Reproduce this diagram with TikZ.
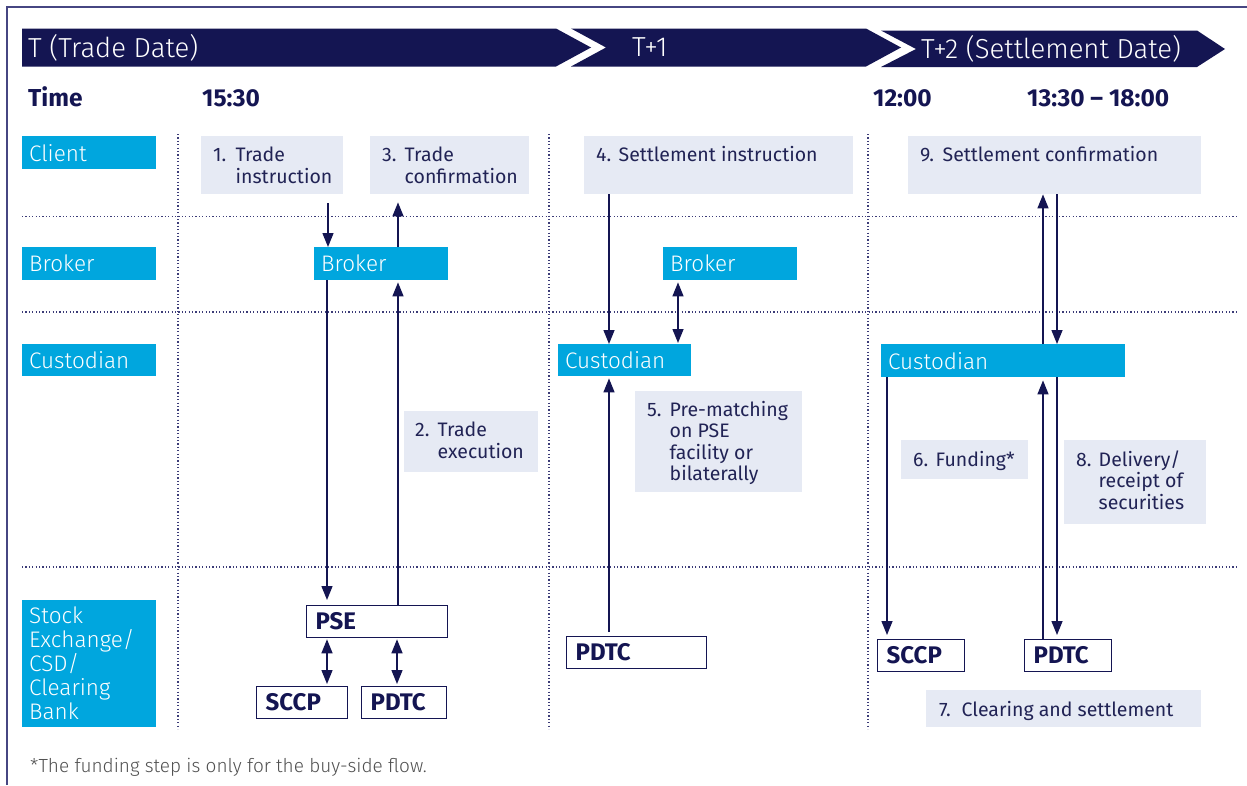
\documentclass[tikz,border=0pt]{standalone}
\usepackage{fontspec}
\setmainfont{Fira Sans}
\IfFontExistsTF{Fira Sans Light}{\newfontfamily\mlightfam{Fira Sans Light}}{\newfontfamily\mlightfam{Fira Sans}}
\usetikzlibrary{arrows.meta,calc}
\definecolor{navy}{RGB}{20,21,82}
\definecolor{cyanbox}{RGB}{0,166,222}
\definecolor{graybox}{RGB}{230,234,244}
\definecolor{navytext}{RGB}{33,35,85}
\definecolor{dotc}{RGB}{60,60,120}
\definecolor{footc}{RGB}{80,80,80}
\definecolor{framec}{RGB}{70,70,130}
\newcommand{\mhd}{\mlightfam\fontsize{27.5}{30}\selectfont}
\newcommand{\mcy}{\mlightfam\fontsize{22.5}{24}\selectfont}
\newcommand{\mgy}{\fontsize{19.5}{21}\selectfont}
\newcommand{\mbd}{\fontsize{24}{26}\selectfont\bfseries}
\newcommand{\mtm}{\fontsize{24.5}{26}\selectfont\bfseries}
\newcommand{\mft}{\mlightfam\fontsize{19}{21}\selectfont}
\newcommand{\numtxt}[2]{\makebox[22.5pt][l]{#1}\begin{tabular}[t]{@{}l@{}}#2\end{tabular}}
\begin{document}
\begin{tikzpicture}[x=1pt,y=-1pt,
  cbox/.style={fill=cyanbox,text=white,font=\mcy,anchor=north west,inner xsep=7pt,inner ysep=0pt,align=left},
  gbox/.style={fill=graybox,anchor=north west,inner sep=0pt},
  gtext/.style={anchor=base west,text=navytext,font=\mgy,inner sep=0pt},
  wbox/.style={draw=navy,line width=1.3pt,fill=white,anchor=north west,inner xsep=9pt,inner ysep=0pt,minimum height=32pt,text=navy,font=\mbd,align=left},
  band/.style={fill=navy},
  htext/.style={anchor=base west,text=white,font=\mhd,inner sep=0pt},
  ttext/.style={anchor=base west,text=navy,font=\mtm,inner sep=0pt},
  dotline/.style={draw=dotc,line width=1.1pt,dash pattern=on 1.1pt off 2.3pt},
  arr/.style={draw=navy,line width=1.4pt,-{Triangle[length=14pt,width=11pt]}},
  darr/.style={draw=navy,line width=1.4pt,{Triangle[length=14pt,width=11pt]}-{Triangle[length=14pt,width=11pt]}}
]
\useasboundingbox (0,0) rectangle (1247,785);
\fill[white] (0,0) rectangle (1247,785);
% frame
\draw[framec,line width=1.3pt] (7,785) -- (7,7) -- (1247,7);
% header bands
\fill[band] (22,28.5) -- (556,28.5) -- (591,47.5) -- (556,66.5) -- (22,66.5) -- cycle;
\fill[band] (571,28.5) -- (866,28.5) -- (901,47.5) -- (866,66.5) -- (571,66.5) -- (606,47.5) -- cycle;
\fill[band] (881,30.5) -- (1197,30.5) -- (1225,49) -- (1197,67) -- (881,67) -- (916,49) -- cycle;
\node[htext] (hT) at (28,57) {T (Trade Date)};
\node[htext] (hT1) at (632,56) {T+1};
\node[htext] (hT2) at (921,58) {T+2 (Settlement Date)};
% time row
\node[ttext] (tTime) at (28,106) {Time};
\node[ttext] (t1530) at (202,106) {15:30};
\node[ttext] (t1200) at (873,106) {12:00};
\node[ttext] (t1330) at (1027,106) {13:30 -- 18:00};
% grid
\foreach \yy in {216.5,312,567} \draw[dotline] (22,\yy) -- (1238,\yy);
\foreach \xx in {178,549,868} \draw[dotline] (\xx,134) -- (\xx,729);
% row labels
\node[cbox,text width=120pt,minimum height=33pt] (lclient) at (22,136) {Client};
\node[cbox,text width=120pt,minimum height=33pt] (lbroker) at (22,247) {Broker};
\node[cbox,text width=120pt,minimum height=32pt] (lcust) at (22,344) {Custodian};
\node[cbox,text width=120pt,minimum height=127pt] (lstock) at (22,600) {Stock\\Exchange/\\CSD/\\Clearing\\Bank};
% cyan nodes
\node[cbox,text width=120pt,minimum height=33pt] (br1) at (314,247) {Broker};
\node[cbox,text width=120pt,minimum height=33pt] (br2) at (663,247) {Broker};
\node[cbox,text width=119pt,minimum height=32pt] (cu1) at (558,344) {Custodian};
\node[cbox,text width=230pt,minimum height=33pt] (cu2) at (881,344) {Custodian};
% gray step boxes
\node[gbox,minimum width=142pt,minimum height=58pt] (b1) at (201,136) {};
\node[gtext] (b1t) at ($(b1.north west)+(12,25.5)$) {\numtxt{1.}{Trade\\instruction}};
\node[gbox,minimum width=159pt,minimum height=58pt] (b3) at (370,136) {};
\node[gtext] (b3t) at ($(b3.north west)+(12,25.5)$) {\numtxt{3.}{Trade\\confirmation}};
\node[gbox,minimum width=269pt,minimum height=58pt] (b4) at (584,136) {};
\node[gtext] (b4t) at ($(b4.north west)+(12,25.5)$) {\numtxt{4.}{Settlement instruction}};
\node[gbox,minimum width=293pt,minimum height=58pt] (b9) at (908,136) {};
\node[gtext] (b9t) at ($(b9.north west)+(12,25.5)$) {\numtxt{9.}{Settlement confirmation}};
\node[gbox,minimum width=134pt,minimum height=61pt] (b2) at (404,411) {};
\node[gtext] (b2t) at ($(b2.north west)+(11,25.5)$) {\numtxt{2.}{Trade\\execution}};
\node[gbox,minimum width=167pt,minimum height=101pt] (b5) at (635,391) {};
\node[gtext] (b5t) at ($(b5.north west)+(12,25.5)$) {\numtxt{5.}{Pre-matching\\on PSE\\facility or\\bilaterally}};
\node[gbox,minimum width=127pt,minimum height=39pt] (b6) at (901,440) {};
\node[gtext] (b6t) at ($(b6.north west)+(12,26)$) {\numtxt{6.}{Funding*}};
\node[gbox,minimum width=142pt,minimum height=84pt] (b8) at (1064,440) {};
\node[gtext] (b8t) at ($(b8.north west)+(12,26)$) {\numtxt{8.}{Delivery/\\receipt of\\securities}};
\node[gbox,minimum width=275pt,minimum height=37pt] (b7) at (926,690) {};
\node[gtext] (b7t) at ($(b7.north west)+(13,26)$) {\numtxt{7.}{Clearing and settlement}};
% white boxes
\node[wbox,text width=123pt] (pse) at (306,605) {PSE};
\node[wbox,text width=73pt] (sccp1) at (256,686) {SCCP};
\node[wbox,text width=67pt] (pdtc1) at (361,686) {PDTC};
\node[wbox,text width=122pt] (pdtc2) at (566,636) {PDTC};
\node[wbox,text width=69pt] (sccp2) at (877,639) {SCCP};
\node[wbox,text width=69pt] (pdtc3) at (1024,639) {PDTC};
% connectors
\draw[arr,shorten <=9pt] (b1.south -| 328,0) -- (br1.north -| 328,0);
\draw[arr,shorten >=8pt] (br1.north -| 398,0) -- (b3.south -| 398,0);
\draw[arr,shorten >=5pt] (br1.south -| 327,0) -- (pse.north -| 327,0);
\draw[arr,shorten >=2pt] (pse.north -| 398,0) -- (br1.south -| 398,0);
\draw[darr,shorten <=1pt,shorten >=2pt] (pse.south -| 327,0) -- (sccp1.north -| 327,0);
\draw[darr,shorten <=1pt,shorten >=2pt] (pse.south -| 397,0) -- (pdtc1.north -| 397,0);
\draw[arr] (b4.south -| 609,0) -- (cu1.north -| 609,0);
\draw[darr,shorten <=2pt,shorten >=1pt] (br2.south -| 678,0) -- (cu1.north -| 678,0);
\draw[arr,shorten <=4pt,shorten >=2pt] (pdtc2.north -| 609,0) -- (cu1.south -| 609,0);
\draw[arr,shorten >=4pt] (cu2.south -| 887,0) -- (sccp2.north -| 887,0);
\draw[arr,shorten >=3pt] (pdtc3.north -| 1043,0) -- (cu2.south -| 1043,0);
\draw[arr] (cu2.north -| 1043,0) -- (b9.south -| 1043,0);
\draw[arr] (b9.south -| 1057,0) -- (cu2.north -| 1057,0);
\draw[arr,shorten >=4pt] (cu2.south -| 1057,0) -- (pdtc3.north -| 1057,0);
% footnote
\node[anchor=base west,text=footc,font=\mft,inner sep=0pt] (foot) at (30,772) {*The funding step is only for the buy-side flow.};
\end{tikzpicture}
\end{document}
